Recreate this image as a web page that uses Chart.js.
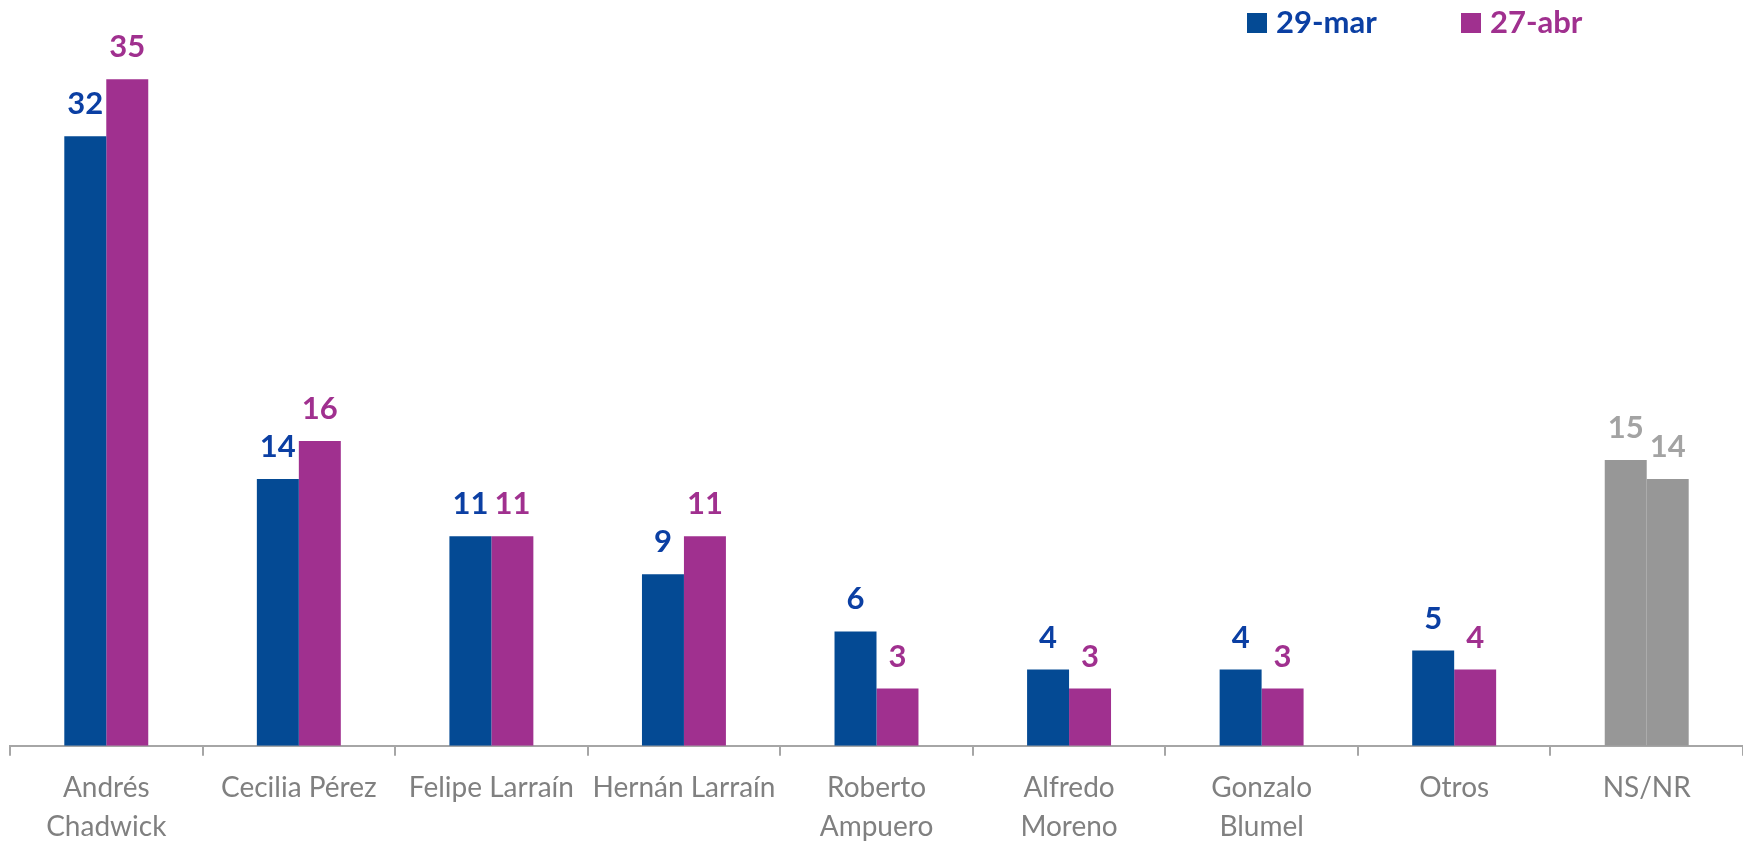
<!DOCTYPE html>
<html>
<head>
<meta charset="utf-8">
<title>Preferencias</title>
<script src="https://cdn.jsdelivr.net/npm/chart.js@4.4.0/dist/chart.umd.min.js"></script>
<style>
    html, body { margin: 0; padding: 0; background: #fff; }
    #wrap { width: 1743px; height: 843px; position: relative; }
</style>
</head>
<body>
<div id="wrap"><canvas id="pollChart"></canvas></div>
<script>
// Chart data
const categories = [
    ['Andrés', 'Chadwick'], 'Cecilia Pérez', 'Felipe Larraín', 'Hernán Larraín',
    ['Roberto', 'Ampuero'], ['Alfredo', 'Moreno'], ['Gonzalo', 'Blumel'], 'Otros', 'NS/NR'
];
const seriesNames = ['29-mar', '27-abr'];
const marValues = [32, 14, 11, 9, 6, 4, 4, 5, 15];
const abrValues = [35, 16, 11, 11, 3, 3, 3, 4, 14];

const BLUE = '#044A94';
const BLUE_TEXT = '#0B3FA3';
const MAGENTA = '#A0308F';
const GRAY = '#979797';
const GRAY_TEXT = '#A3A3A3';

// NS/NR bars are drawn in gray
function colorsFor(values, main) {
    return values.map((v, i) => i === values.length - 1 ? GRAY : main);
}
function labelColorsFor(values, main) {
    return values.map((v, i) => i === values.length - 1 ? GRAY_TEXT : main);
}

/**
 * Value labels above each bar
 */
const valueLabels = {
    id: 'valueLabels',
    afterDatasetsDraw(chart) {
        const ctx = chart.ctx;
        ctx.save();
        ctx.font = 'bold 31px Lato';
        ctx.textAlign = 'center';
        ctx.textBaseline = 'alphabetic';
        chart.data.datasets.forEach((ds, di) => {
            const meta = chart.getDatasetMeta(di);
            meta.data.forEach((bar, i) => {
                ctx.fillStyle = ds.labelColors[i];
                ctx.fillText(ds.data[i], bar.x, bar.y - 22);
            });
        });
        ctx.restore();
    }
};

/**
 * Legend in the top right corner with coloured text
 */
const topLegend = {
    id: 'topLegend',
    afterDraw(chart) {
        const ctx = chart.ctx;
        const items = [
            { text: seriesNames[0], color: BLUE, textColor: BLUE_TEXT, x: chart.width - 496 },
            { text: seriesNames[1], color: MAGENTA, textColor: MAGENTA, x: chart.width - 282 }
        ];
        ctx.save();
        ctx.font = 'bold 31px Lato';
        ctx.textBaseline = 'alphabetic';
        items.forEach(item => {
            ctx.fillStyle = item.color;
            ctx.fillRect(item.x, 13, 20, 20);
            ctx.fillStyle = item.textColor;
            ctx.fillText(item.text, item.x + 29, 33);
        });
        ctx.restore();
    }
};

const ctx = document.getElementById('pollChart').getContext('2d');
new Chart(ctx, {
    type: 'bar',
    data: {
        labels: categories,
        datasets: [
            {
                label: seriesNames[0],
                data: marValues,
                backgroundColor: colorsFor(marValues, BLUE),
                labelColors: labelColorsFor(marValues, BLUE_TEXT),
                categoryPercentage: 0.436,
                barPercentage: 1
            },
            {
                label: seriesNames[1],
                data: abrValues,
                backgroundColor: colorsFor(abrValues, MAGENTA),
                labelColors: labelColorsFor(abrValues, MAGENTA),
                categoryPercentage: 0.436,
                barPercentage: 1
            }
        ]
    },
    options: {
        responsive: true,
        maintainAspectRatio: false,
        animation: false,
        layout: {
            padding: { left: 10, right: 0, top: 0, bottom: -16 }
        },
        plugins: {
            legend: { display: false },
            tooltip: { enabled: false }
        },
        scales: {
            y: {
                display: false,
                min: 0,
                max: 39.16
            },
            x: {
                grid: {
                    display: true,
                    drawOnChartArea: false,
                    drawTicks: true,
                    tickLength: 10,
                    color: '#A6A6A6',
                    lineWidth: 2
                },
                border: {
                    display: true,
                    color: '#A6A6A6',
                    width: 2
                },
                ticks: {
                    color: '#808080',
                    padding: 13,
                    maxRotation: 0,
                    autoSkip: false,
                    font: {
                        family: 'Lato',
                        size: 28,
                        lineHeight: 1.38
                    }
                }
            }
        }
    },
    plugins: [valueLabels, topLegend]
});
</script>
</body>
</html>
